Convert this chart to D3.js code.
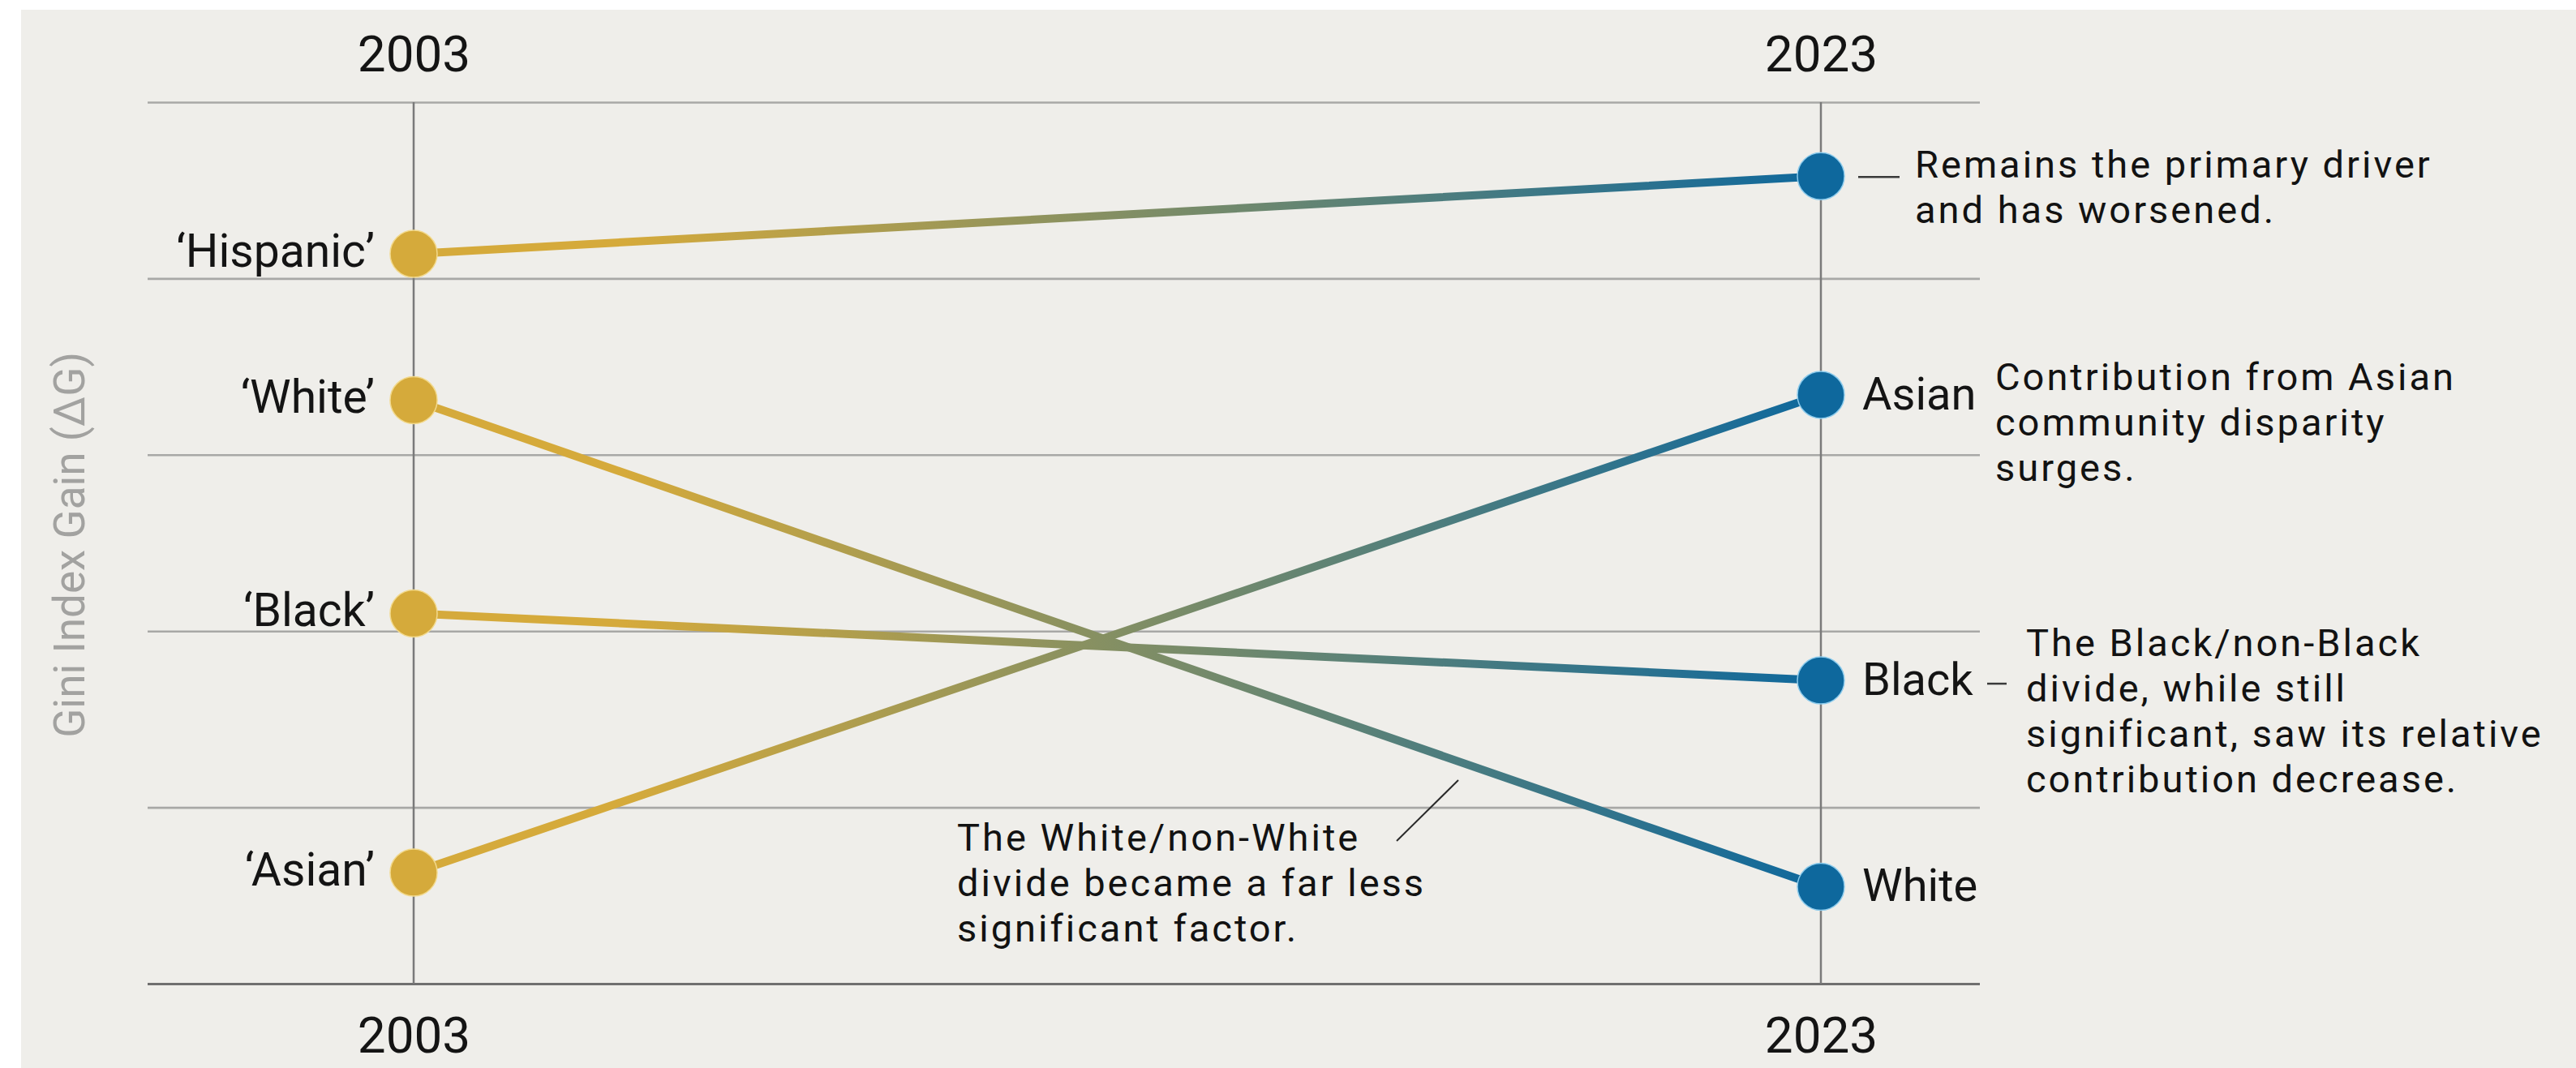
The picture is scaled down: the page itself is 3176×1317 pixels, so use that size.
<!DOCTYPE html>
<html>
<head>
<meta charset="utf-8">
<script src="https://cdn.jsdelivr.net/npm/d3@7"></script>
<style>
  html, body { margin: 0; padding: 0; background: #ffffff; }
  svg { display: block; }
</style>
</head>
<body>
<svg id="chart" width="3176" height="1317"></svg>
<script>
// ---------- data ----------
const years = ["2003", "2023"];
const groups = ["Hispanic", "White", "Black", "Asian"];
const values2003 = [4.14, 3.31, 2.10, 0.63];
const values2023 = [4.58, 0.55, 1.72, 3.34];
const gridTicks = [0, 1, 2, 3, 4, 5];
const leftLabels = ["\u2018Hispanic\u2019", "\u2018White\u2019", "\u2018Black\u2019", "\u2018Asian\u2019"];
const rightLabels = ["", "White", "Black", "Asian"];
const noteHispanic = ["Remains the primary driver", "and has worsened."];
const noteAsian = ["Contribution from Asian", "community disparity", "surges."];
const noteBlack = ["The Black/non-Black", "divide, while still", "significant, saw its relative", "contribution decrease."];
const noteWhite = ["The White/non-White", "divide became a far less", "significant factor."];
const yAxisLabel = "Gini Index Gain (\u0394G)";

// ---------- layout ----------
const W = 3176, H = 1317;
const gridLeft = 182, gridRight = 2441;
const gold = "#d5aa3b", blue = "#0e689d";
const font = "Roboto, 'Noto Sans', sans-serif";

const svg = d3.select("#chart");

svg.append("rect").attr("x", 26).attr("y", 12).attr("width", W - 26).attr("height", H - 12)
  .attr("fill", "#efeeea");

const x = d3.scalePoint().domain(years).range([510, 2245]);
const y = d3.scaleLinear().domain([0, 5]).range([1213, 126]);

// gridlines
const grid = svg.append("g").attr("transform", `translate(${gridLeft},0)`)
  .call(d3.axisLeft(y).tickValues(gridTicks).tickSize(-(gridRight - gridLeft)).tickFormat(""));
grid.select(".domain").remove();
grid.selectAll(".tick line")
  .attr("stroke", d => d === 0 ? "#6f6f6f" : "#a8a8a6")
  .attr("stroke-width", d => d === 0 ? 3 : 2.6);

// vertical year lines
svg.append("g").selectAll("line").data(years).join("line")
  .attr("x1", d => x(d)).attr("x2", d => x(d))
  .attr("y1", y(5)).attr("y2", y(0))
  .attr("stroke", "#7a7a7a").attr("stroke-width", 2.5);

// year labels top & bottom
const topAxis = svg.append("g").attr("transform", `translate(0,${y(5)})`)
  .call(d3.axisTop(x).tickSize(0).tickPadding(38));
const botAxis = svg.append("g").attr("transform", `translate(0,${y(0)})`)
  .call(d3.axisBottom(x).tickSize(0).tickPadding(41));
[topAxis, botAxis].forEach(g => {
  g.select(".domain").remove();
  g.selectAll("text").attr("font-family", font).attr("font-size", 62).attr("fill", "#141414");
});

// y-axis title
svg.append("text")
  .attr("transform", "translate(86,672) rotate(-90)")
  .attr("text-anchor", "middle").attr("dominant-baseline", "central")
  .attr("font-family", font).attr("font-size", 53).attr("fill", "#a2a2a0")
  .text(yAxisLabel);

// gradient
const defs = svg.append("defs");
const grad = defs.append("linearGradient").attr("id", "slopeGrad")
  .attr("gradientUnits", "userSpaceOnUse")
  .attr("x1", x("2003")).attr("x2", x("2023")).attr("y1", 0).attr("y2", 0);
grad.append("stop").attr("offset", "0%").attr("stop-color", gold);
grad.append("stop").attr("offset", "15%").attr("stop-color", gold);
grad.append("stop").attr("offset", "100%").attr("stop-color", blue);

const rows = groups.map((g, i) => ({ g, i, a: values2003[i], b: values2023[i] }));

// slope lines
svg.append("g").selectAll("line").data(rows).join("line")
  .attr("x1", x("2003")).attr("y1", d => y(d.a))
  .attr("x2", x("2023")).attr("y2", d => y(d.b))
  .attr("stroke", "url(#slopeGrad)").attr("stroke-width", 10).attr("stroke-linecap", "round");

// dots
svg.append("g").selectAll("circle").data(rows).join("circle")
  .attr("cx", x("2003")).attr("cy", d => y(d.a)).attr("r", 29)
  .attr("fill", gold).attr("stroke", "#f2d98c").attr("stroke-width", 1.5);
svg.append("g").selectAll("circle").data(rows).join("circle")
  .attr("cx", x("2023")).attr("cy", d => y(d.b)).attr("r", 29)
  .attr("fill", blue).attr("stroke", "#8ccbec").attr("stroke-width", 1.5);

// left labels
svg.append("g").selectAll("text").data(rows).join("text")
  .attr("x", x("2003") - 48).attr("y", d => y(d.a) + 16)
  .attr("text-anchor", "end")
  .attr("font-family", font).attr("font-size", 57).attr("fill", "#141414")
  .text(d => leftLabels[d.i]);

// right labels
svg.append("g").selectAll("text").data(rows.filter(d => rightLabels[d.i] !== "")).join("text")
  .attr("x", x("2023") + 51).attr("y", d => y(d.b) + 18)
  .attr("font-family", font).attr("font-size", 56).attr("fill", "#141414")
  .text(d => rightLabels[d.i]);

// annotations
function note(lines, x0, y0, lh) {
  const t = svg.append("text")
    .attr("font-family", font).attr("font-size", 47).attr("letter-spacing", 3.0)
    .attr("fill", "#121212");
  t.selectAll("tspan").data(lines).join("tspan")
    .attr("x", x0).attr("y", (d, i) => y0 + i * lh).text(d => d);
}
const LH = 56;
const hY = y(values2023[0]), aY = y(values2023[3]), bY = y(values2023[2]);
const x23 = x("2023");

svg.append("line").attr("x1", x23 + 46).attr("x2", x23 + 97)
  .attr("y1", hY + 1).attr("y2", hY + 1).attr("stroke", "#3a3a3a").attr("stroke-width", 2.5);
note(noteHispanic, x23 + 116, hY + 2, LH);

note(noteAsian, x23 + 215, aY - 6, LH);

svg.append("line").attr("x1", x23 + 205).attr("x2", x23 + 229)
  .attr("y1", bY + 4).attr("y2", bY + 4).attr("stroke", "#3a3a3a").attr("stroke-width", 2.5);
note(noteBlack, x23 + 253, bY - 30, LH);

svg.append("line").attr("x1", 1798).attr("y1", 962).attr("x2", 1722).attr("y2", 1037)
  .attr("stroke", "#2a2a2a").attr("stroke-width", 2);
note(noteWhite, 1180, 1049, LH);
</script>
</body>
</html>
